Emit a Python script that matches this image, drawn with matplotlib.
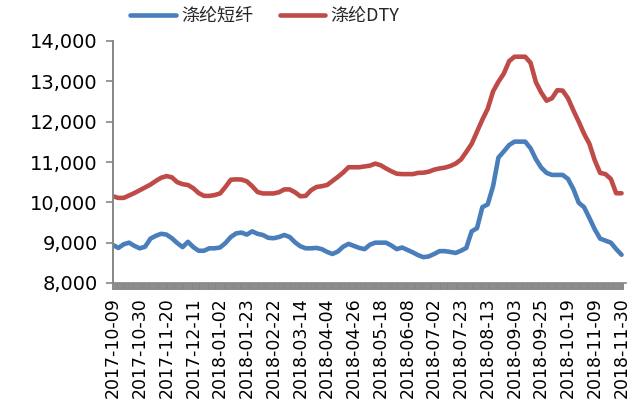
import numpy as np
import matplotlib
matplotlib.use('Agg')
import matplotlib.pyplot as plt

plt.rcParams['font.family'] = ['DejaVu Sans', 'Noto Sans CJK SC']

#######################################################################################################
# data: prices, one value every 3 trading days (index 0 = 2017-10-09)
#######################################################################################################
tick_labels = ['2017-10-09', '2017-10-30', '2017-11-20', '2017-12-11', '2018-01-02', '2018-01-23',
               '2018-02-22', '2018-03-14', '2018-04-04', '2018-04-26', '2018-05-18', '2018-06-08',
               '2018-07-02', '2018-07-23', '2018-08-13', '2018-09-03', '2018-09-25', '2018-10-19',
               '2018-11-09', '2018-11-30']
label_step = 15      # trading days between labels
sample_step = 3      # trading days between the values below

psf = [8940, 8870, 8960, 9000, 8920, 8860, 8900, 9100, 9170, 9220,
       9200, 9110, 8990, 8890, 9020, 8890, 8800, 8800, 8860, 8860,
       8880, 8990, 9140, 9230, 9250, 9200, 9280, 9220, 9190, 9120,
       9110, 9140, 9190, 9140, 9010, 8910, 8860, 8860, 8870, 8840,
       8770, 8720, 8780, 8900, 8970, 8920, 8870, 8840, 8950, 9000,
       9000, 9000, 8930, 8840, 8880, 8820, 8760, 8690, 8640, 8660,
       8720, 8790, 8790, 8770, 8745, 8800, 8870, 9280, 9360, 9880,
       9950, 10400, 11110, 11260, 11420, 11505, 11505, 11505, 11340, 11070,
       10860, 10730, 10680, 10680, 10680, 10580, 10330, 9990, 9880, 9610,
       9330, 9100, 9050, 9000, 8840, 8700]

dty = [10150, 10110, 10110, 10170, 10230, 10300, 10370, 10440, 10530, 10610,
       10650, 10620, 10500, 10450, 10430, 10350, 10230, 10160, 10160, 10180,
       10220, 10380, 10560, 10570, 10565, 10520, 10400, 10255, 10220, 10220,
       10220, 10250, 10320, 10320, 10250, 10150, 10160, 10300, 10380, 10400,
       10430, 10530, 10630, 10740, 10870, 10870, 10870, 10890, 10910, 10960,
       10920, 10840, 10770, 10710, 10700, 10700, 10700, 10730, 10735, 10760,
       10810, 10840, 10860, 10900, 10960, 11060, 11250, 11450, 11750, 12050,
       12320, 12750, 12990, 13190, 13500, 13610, 13610, 13610, 13460, 12980,
       12720, 12520, 12580, 12780, 12770, 12580, 12280, 12000, 11700, 11450,
       11040, 10730, 10700, 10580, 10225, 10225]

lbl_a = '涤纶短纤'
lbl_b = '涤纶DTY'
clr_a = '#4A7EBB'
clr_b = '#BE4B48'
axis_clr = '#868686'

#######################################################################################################
# plot
#######################################################################################################
x = np.arange(len(psf)) * sample_step
n_days = x[-1] + 1

fig = plt.figure(figsize=(6.43, 4.17), dpi=100)
ax = fig.add_axes([113 / 643, 1 - 283 / 417, 513 / 643, 242 / 417])

ax.plot(x, psf, color=clr_a, linewidth=3.3, label=lbl_a, solid_capstyle='round')
ax.plot(x, dty, color=clr_b, linewidth=3.3, label=lbl_b, solid_capstyle='round')

ax.set_xlim(0, n_days + 1.5)
ax.set_ylim(8000, 14000)
ax.set_yticks(np.arange(8000, 14001, 1000))
ax.set_yticklabels(['{:,}'.format(v) for v in range(8000, 14001, 1000)], fontsize=14, color='black')

# one tick per trading day (forms the grey band), labels every 15 days
ax.set_xticks(np.arange(0, n_days + 1), minor=True)
ax.set_xticks(np.arange(len(tick_labels)) * label_step)
ax.set_xticklabels(tick_labels, rotation=90, fontsize=12.5, color='black')

ax.spines['top'].set_visible(False)
ax.spines['right'].set_visible(False)
ax.spines['bottom'].set_color(axis_clr)
ax.spines['left'].set_color(axis_clr)
ax.spines['left'].set_linewidth(1.4)
ax.spines['bottom'].set_linewidth(1.2)
ax.tick_params(axis='y', direction='out', length=5, width=1.2, color=axis_clr, pad=6)
ax.tick_params(axis='x', which='both', direction='out', length=5.2, width=1.35, color=axis_clr, pad=5)

leg = fig.legend(loc='center', bbox_to_anchor=(265 / 643, 1 - 16 / 417), ncol=2, frameon=False,
                 prop={'family': ['Noto Sans CJK SC', 'DejaVu Sans'], 'size': 13},
                 handlelength=2.5, handletextpad=0.3, columnspacing=1.5)
for txt in leg.get_texts():
    txt.set_color('#262626')

fig.savefig('out.png', dpi=100)
